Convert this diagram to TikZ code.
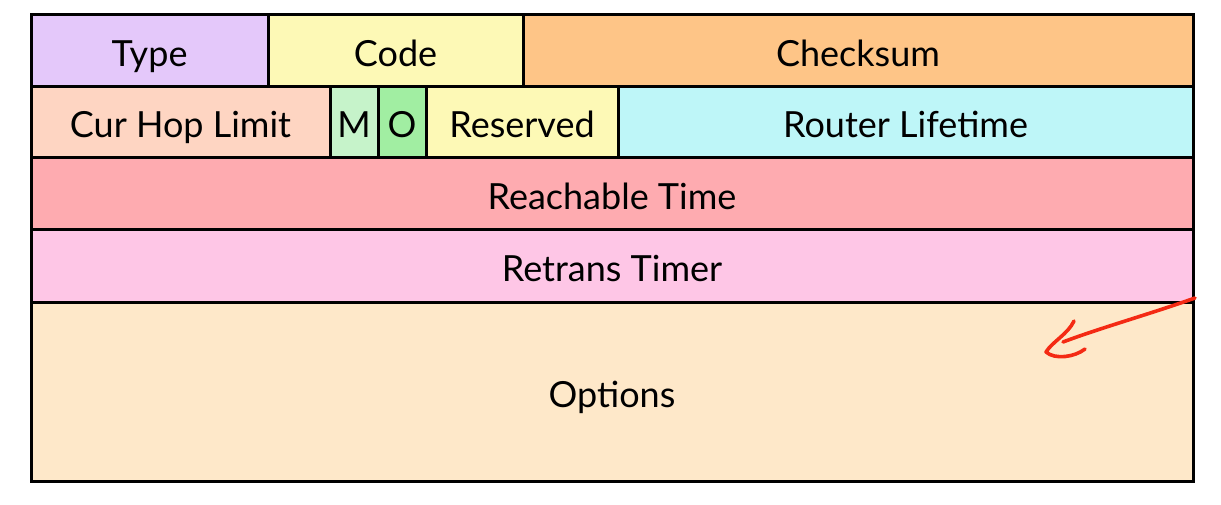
\documentclass[tikz,border=0pt]{standalone}
\usepackage{fontspec}
\setmainfont{Lato}
\definecolor{typecol}{HTML}{E4C8FA}
\definecolor{codecol}{HTML}{FDF9B6}
\definecolor{checkcol}{HTML}{FEC587}
\definecolor{hopcol}{HTML}{FED5C2}
\definecolor{mcol}{HTML}{C6F3CA}
\definecolor{ocol}{HTML}{A1EEA2}
\definecolor{lifecol}{HTML}{BEF6F8}
\definecolor{reachcol}{HTML}{FEABB0}
\definecolor{retranscol}{HTML}{FEC6E6}
\definecolor{optcol}{HTML}{FEE8C9}
\definecolor{inkred}{HTML}{F42A14}
\tikzset{field/.style={draw, line width=3pt, inner sep=0pt, text height=31pt, text depth=0pt, font=\fontsize{36}{42}\selectfont}}
\begin{document}
\begin{tikzpicture}[x=1pt, y=-1pt]
        \useasboundingbox (0,0) rectangle (1221,505);
        % first word
        \node [field, fill=typecol, minimum width=237pt, minimum height=72pt] (type) at (149.5, 51) {Type};
        \node [field, fill=codecol, minimum width=255pt, minimum height=72pt] (code) at (395.5, 51) {Code};
        \node [field, fill=checkcol, minimum width=670pt, minimum height=72pt] (checksum) at (858, 51) {Checksum};
        % second word
        \node [field, fill=hopcol, minimum width=299pt, minimum height=71pt] (hop) at (180.5, 122.5) {Cur Hop Limit};
        \node [field, fill=mcol, minimum width=48pt, minimum height=71pt] (m) at (354, 122.5) {M};
        \node [field, fill=ocol, minimum width=48pt, minimum height=71pt] (o) at (402, 122.5) {O};
        \node [field, fill=codecol, minimum width=192pt, minimum height=71pt] (reserved) at (522, 122.5) {Reserved};
        \node [field, fill=lifecol, minimum width=575pt, minimum height=71pt] (lifetime) at (905.5, 122.5) {Router Lifetime};
        % timers
        \node [field, fill=reachcol, minimum width=1162pt, minimum height=72pt] (reach) at (612, 194) {Reachable Time};
        \node [field, fill=retranscol, minimum width=1162pt, minimum height=72pt] (retrans) at (612, 266) {Retrans Timer};
        \node [field, fill=optcol, minimum width=1162pt, minimum height=179pt] (options) at (612, 391.5) {Options};
        % pen mark
        \draw [inkred, line width=3.6pt, line cap=round] (1195, 298) .. controls (1150, 314) and (1100, 328) .. (1063, 342);
        \draw [inkred, line width=3.6pt, line cap=round, line join=round] (1074, 321) .. controls (1068, 334) and (1052, 342) .. (1046, 352) .. controls (1055, 360) and (1075, 357) .. (1085, 349);
\end{tikzpicture}
\end{document}
